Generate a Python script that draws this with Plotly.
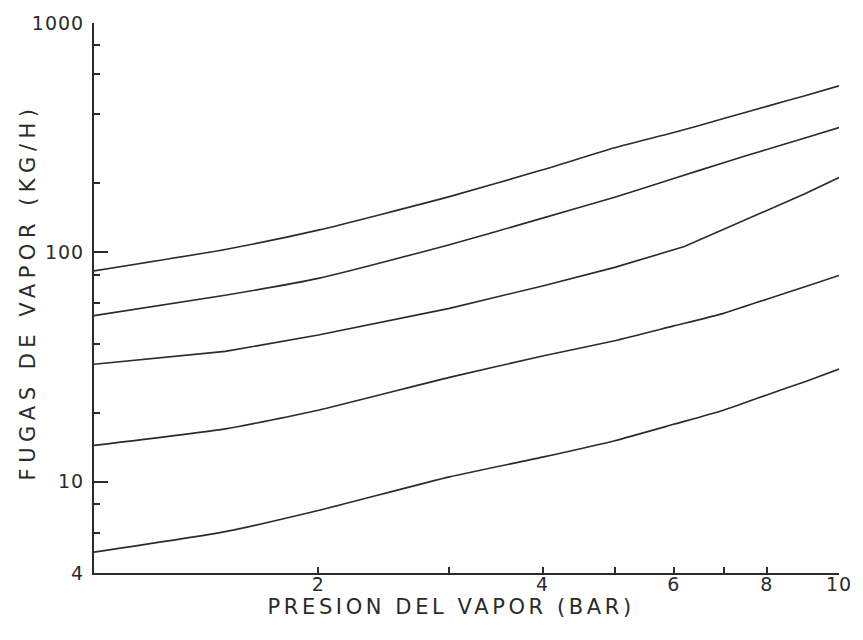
import plotly.graph_objects as go

# Data (log-log chart)
presion = [1, 1.5, 2, 3, 4, 5, 6, 7, 8, 9, 10]
presion_c = [1, 1.5, 2, 3, 4, 5, 6.2, 7, 8, 9, 10]
curva_1 = [83, 103, 125, 175, 229, 286, 333, 383, 433, 482, 532]
curva_2 = [53, 65, 77, 108, 141, 174, 210, 246, 281, 315, 350]
curva_3 = [32.5, 37, 43.6, 57, 71.4, 86, 106, 126, 152, 180, 212]
curva_4 = [14.4, 17.0, 20.5, 28.5, 35.3, 41.2, 47.8, 54.2, 62.5, 70.8, 79.3]
curva_5 = [4.93, 6.06, 7.49, 10.5, 12.8, 15.1, 17.8, 20.5, 23.9, 27.3, 31.0]

x_ticks = [2, 4, 6, 8, 10]
x_minor = [3, 5, 7]
y_ticks = [4, 10, 100, 1000]
y_minor = [6, 8, 20, 40, 60, 80, 200, 400, 600, 800]

x_title = "PRESION DEL VAPOR (BAR)"
y_title = "FUGAS DE VAPOR (KG/H)"

ink = "#2b2b2b"
font_fam = "DejaVu Sans"

fig = go.Figure()
series = [
    (presion, curva_1, "spline"),
    (presion, curva_2, "spline"),
    (presion_c, curva_3, "linear"),
    (presion, curva_4, "spline"),
    (presion, curva_5, "spline"),
]
for xs, ys, shape in series:
    fig.add_trace(go.Scatter(
        x=xs, y=ys, mode="lines",
        line=dict(color=ink, width=1.6, shape=shape, smoothing=0.5),
        showlegend=False, hoverinfo="skip",
    ))

fig.update_layout(
    width=863, height=640,
    margin=dict(l=94, r=14, t=22, b=67),
    paper_bgcolor="white", plot_bgcolor="white",
    font=dict(family=font_fam, color=ink, size=19),
    xaxis=dict(
        type="log", range=[0, 1],
        showgrid=False, zeroline=False,
        showline=True, linecolor=ink, linewidth=2,
        tickmode="array", tickvals=x_ticks, ticktext=[str(v) for v in x_ticks],
        ticks="inside", ticklen=6, tickwidth=2, tickcolor=ink,
        ticklabelstandoff=-7,
        minor=dict(tickmode="array", tickvals=x_minor, ticks="inside",
                   ticklen=6, tickwidth=2, tickcolor=ink, showgrid=False),
        tickfont=dict(size=19, family=font_fam, color=ink),
    ),
    yaxis=dict(
        type="log", range=[0.60206, 3],
        showgrid=False, zeroline=False,
        showline=True, linecolor=ink, linewidth=2,
        tickmode="array", tickvals=y_ticks, ticktext=[str(v) for v in y_ticks],
        ticks="inside", ticklen=14, tickwidth=2, tickcolor=ink,
        ticklabelstandoff=4,
        minor=dict(tickmode="array", tickvals=y_minor, ticks="inside",
                   ticklen=6, tickwidth=2, tickcolor=ink, showgrid=False),
        tickfont=dict(size=19, family=font_fam, color=ink),
    ),
    annotations=[
        dict(text=x_title, xref="paper", yref="paper", x=0.4795, y=-0.062,
             xanchor="center", yanchor="middle", showarrow=False,
             font=dict(size=21, family=font_fam, color=ink)),
        dict(text=y_title, xref="paper", yref="paper", x=-0.089, y=0.511,
             xanchor="center", yanchor="middle", showarrow=False, textangle=-90,
             font=dict(size=21, family=font_fam, color=ink)),
    ],
)

post = """
var gd = document.getElementsByClassName('plotly-graph-div')[0];
var anns = gd.querySelectorAll('.annotation-text');
if (anns.length >= 2) {
  anns[0].style.letterSpacing = '3.6px';
  anns[1].style.letterSpacing = '5.5px';
}
gd.querySelectorAll('.xtick text, .ytick text').forEach(function(t){ t.style.letterSpacing = '1px'; });
"""

fig.write_html("out.html", post_script=post)
